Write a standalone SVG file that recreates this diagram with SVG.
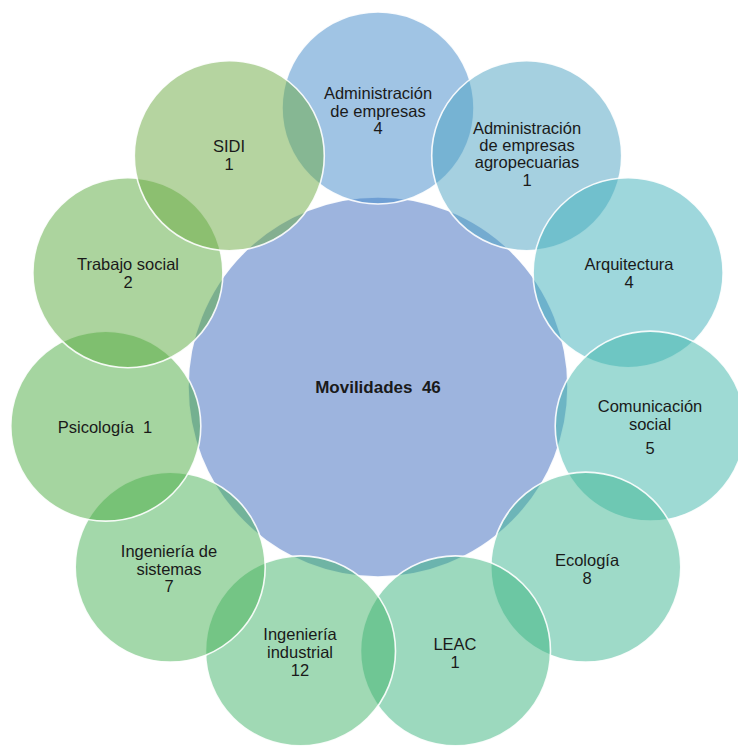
<svg xmlns="http://www.w3.org/2000/svg" width="738" height="748" viewBox="0 0 738 748">
<style>
.c{fill-opacity:0.5;stroke:#ffffff;stroke-width:1.6;stroke-opacity:0.9}
.t{font-family:"Liberation Sans",Arial,sans-serif;font-size:16.5px;fill:#1a1a1a;text-anchor:middle}
.b{font-weight:bold;font-size:17px}
</style>
<rect width="738" height="748" fill="#ffffff"/>
<g id="center">
<circle class="c" cx="378" cy="387" r="190" fill="#3B69BD"/>
<text class="t b" x="378" y="393" xml:space="preserve">Movilidades  46</text>
</g>
<g id="n1"><circle class="c" cx="378" cy="108" r="96" fill="#4189C9"/>
<text class="t" x="378" y="99">Administración</text><text class="t" x="378" y="117">de empresas</text><text class="t" x="378" y="134">4</text></g>
<g id="n2"><circle class="c" cx="526.7" cy="155.7" r="95" fill="#4BA1C1"/>
<text class="t" x="527" y="134">Administración</text><text class="t" x="527" y="151">de empresas</text><text class="t" x="527" y="168">agropecuarias</text><text class="t" x="527" y="186">1</text></g>
<g id="n3"><circle class="c" cx="628.1" cy="272.7" r="95" fill="#3DAFB9"/>
<text class="t" x="629" y="270">Arquitectura</text><text class="t" x="629" y="288">4</text></g>
<g id="n4"><circle class="c" cx="650.2" cy="426.1" r="95" fill="#3DB5A9"/>
<text class="t" x="650" y="412">Comunicación</text><text class="t" x="650" y="430">social</text><text class="t" x="650" y="454">5</text></g>
<g id="n5"><circle class="c" cx="585.8" cy="567.1" r="95" fill="#3DB591"/>
<text class="t" x="587" y="566">Ecología</text><text class="t" x="587" y="584">8</text></g>
<g id="n6"><circle class="c" cx="455.5" cy="650.9" r="95" fill="#39B37D"/>
<text class="t" x="455" y="650">LEAC</text><text class="t" x="455" y="668">1</text></g>
<g id="n7"><circle class="c" cx="300.5" cy="650.9" r="95" fill="#41B369"/>
<text class="t" x="300" y="640">Ingeniería</text><text class="t" x="300" y="658">industrial</text><text class="t" x="300" y="676">12</text></g>
<g id="n8"><circle class="c" cx="170.2" cy="567.1" r="95" fill="#47B155"/>
<text class="t" x="169" y="557">Ingeniería de</text><text class="t" x="169" y="575">sistemas</text><text class="t" x="169" y="592">7</text></g>
<g id="n9"><circle class="c" cx="105.8" cy="426.1" r="95" fill="#4BAB41"/>
<text class="t" x="105" y="433" xml:space="preserve">Psicología  1</text></g>
<g id="n10"><circle class="c" cx="127.9" cy="272.7" r="95" fill="#59A93D"/>
<text class="t" x="128" y="270">Trabajo social</text><text class="t" x="128" y="288">2</text></g>
<g id="n11"><circle class="c" cx="229.3" cy="155.7" r="95" fill="#6BA941"/>
<text class="t" x="229" y="152">SIDI</text><text class="t" x="229" y="170">1</text></g>
<g id="connectors"/>
</svg>
